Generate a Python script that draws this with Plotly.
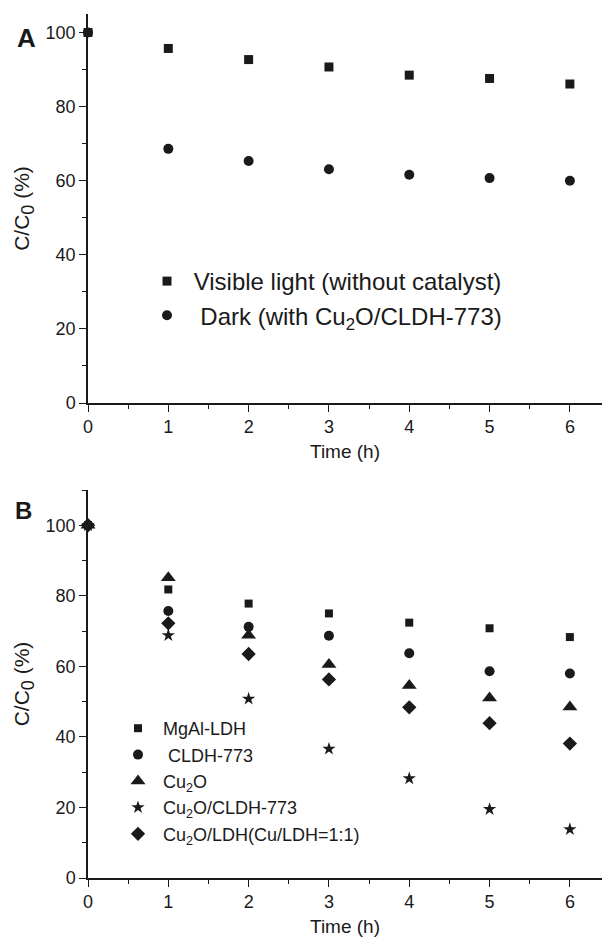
import plotly.graph_objects as go

# ---------- data ----------
time_h = [0, 1, 2, 3, 4, 5, 6]

# Panel A
a_visible = [100, 95.7, 92.7, 90.7, 88.5, 87.6, 86.1]
a_dark = [100, 68.6, 65.3, 63.1, 61.6, 60.7, 60.0]

# Panel B
b_mgal = [100, 81.8, 77.8, 75.0, 72.4, 70.8, 68.3]
b_cldh = [100, 75.7, 71.2, 68.7, 63.7, 58.6, 58.0]
b_cu2o = [100, 85.1, 68.8, 60.5, 54.6, 51.0, 48.5]
b_cu2o_cldh = [100, 68.8, 50.8, 36.6, 28.2, 19.5, 13.8]
b_cu2o_ldh = [100, 72.2, 63.5, 56.3, 48.4, 43.9, 38.1]

x_ticks = [0, 1, 2, 3, 4, 5, 6]
y_ticks = [0, 20, 40, 60, 80, 100]

FONT = "Liberation Sans, Arial, sans-serif"
INK = "#1a1a1a"

fig = go.Figure()

def add(y, name, symbol, size, xa, ya, legend):
    fig.add_trace(go.Scatter(
        x=time_h, y=y, mode="markers", name=name,
        marker=dict(symbol=symbol, size=size, color=INK, line=dict(width=0)),
        xaxis=xa, yaxis=ya, legend=legend, cliponaxis=False,
    ))

add(a_visible, " Visible light (without catalyst)", "square", 9, "x", "y", "legend")
add(a_dark, "  Dark (with Cu<sub>2</sub>O/CLDH-773)", "circle", 10, "x", "y", "legend")

add(b_mgal, " MgAl-LDH", "square", 8, "x2", "y2", "legend2")
add(b_cldh, "  CLDH-773", "circle", 10, "x2", "y2", "legend2")
add(b_cu2o, " Cu<sub>2</sub>O", "triangle-up", 13, "x2", "y2", "legend2")
add(b_cu2o_cldh, " Cu<sub>2</sub>O/CLDH-773", "star", 10, "x2", "y2", "legend2")
add(b_cu2o_ldh, " Cu<sub>2</sub>O/LDH(Cu/LDH=1:1)", "diamond", 11, "x2", "y2", "legend2")

ML, MR, MT, MB = 88, 5, 14, 61
H, W = 939, 607
pw = W - ML - MR
ph = H - MT - MB

def fx(px):
    return (px - ML) / pw

def fy(px):
    return (H - MB - px) / ph

ytitle = "C/C<sub><span style='font-size:18px'>0</span></sub> (%)"

common_x = dict(
    range=[0, 6.4], tickvals=x_ticks, showline=True, linecolor=INK, linewidth=1.5,
    ticks="outside", ticklen=7, tickwidth=1.3, tickcolor=INK, showgrid=False, zeroline=False,
    minor=dict(dtick=0.5, tick0=0, ticks="outside", ticklen=4, tickwidth=1.3, tickcolor=INK),
    tickfont=dict(family=FONT, size=18, color=INK),
    title=dict(text="Time (h)", font=dict(family=FONT, size=19, color=INK), standoff=8),
)
common_y = dict(
    tickvals=y_ticks, showline=True, linecolor=INK, linewidth=1.5,
    ticks="outside", ticklen=7, tickwidth=1.3, tickcolor=INK, showgrid=False, zeroline=False,
    minor=dict(dtick=10, tick0=0, ticks="outside", ticklen=4, tickwidth=1.3, tickcolor=INK),
    tickfont=dict(family=FONT, size=18, color=INK),
    title=dict(text=ytitle, font=dict(family=FONT, size=21, color=INK), standoff=10),
)

fig.update_layout(
    width=W, height=H,
    margin=dict(l=ML, r=MR, t=MT, b=MB),
    paper_bgcolor="white", plot_bgcolor="white",
    font=dict(family=FONT, color=INK),
    xaxis=dict(common_x, anchor="y", domain=[0, 1]),
    yaxis=dict(common_y, anchor="x", domain=[fy(403), 1.0], range=[0, 105]),
    xaxis2=dict(common_x, anchor="y2", domain=[0, 1]),
    yaxis2=dict(common_y, anchor="x2", domain=[0, fy(490)], range=[0, 110]),
    legend=dict(x=fx(147), y=fy(259), xanchor="left", yanchor="top",
                font=dict(family=FONT, size=24, color=INK), bgcolor="rgba(0,0,0,0)",
                itemwidth=30, tracegroupgap=0),
    legend2=dict(x=fx(118), y=fy(710), xanchor="left", yanchor="top",
                 font=dict(family=FONT, size=18, color=INK), bgcolor="rgba(0,0,0,0)",
                 itemwidth=30, tracegroupgap=0),
    showlegend=True,
    annotations=[
        dict(text="<b>A</b>", x=fx(26), y=fy(38), xref="paper", yref="paper", showarrow=False,
             xanchor="center", yanchor="middle",
             font=dict(family=FONT, size=26, color=INK)),
        dict(text="<b>B</b>", x=fx(23), y=fy(511), xref="paper", yref="paper", showarrow=False,
             xanchor="center", yanchor="middle",
             font=dict(family=FONT, size=24, color=INK)),
    ],
)

fig.write_html("out.html")
